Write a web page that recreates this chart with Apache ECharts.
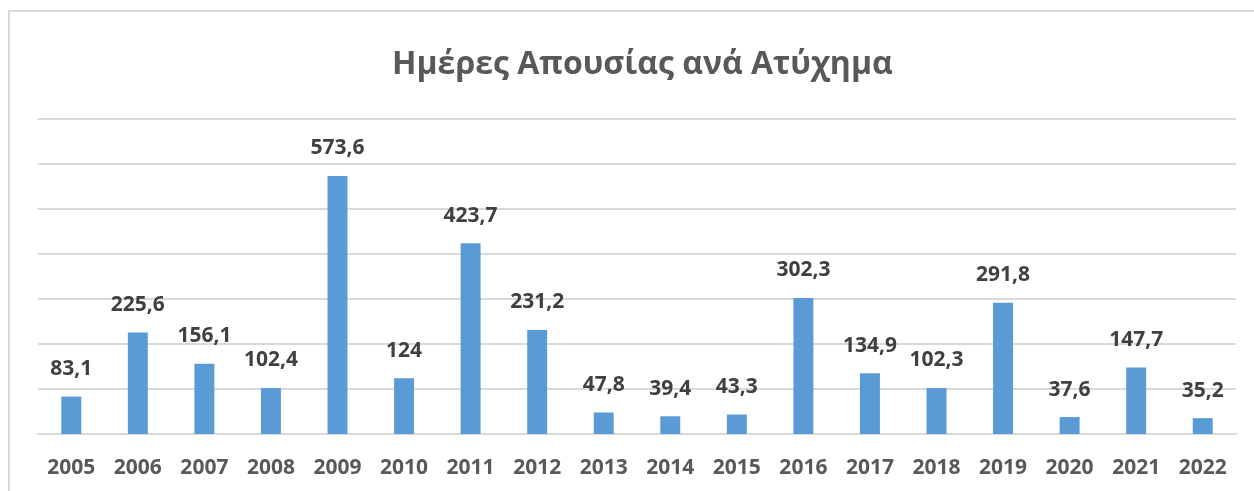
<!DOCTYPE html>
<html>
<head>
<meta charset="utf-8">
<script src="https://cdn.jsdelivr.net/npm/echarts@6/dist/echarts.min.js"></script>
<style>
  html, body { margin: 0; padding: 0; background: #fff; }
  #main { width: 1254px; height: 491px; }
</style>
</head>
<body>
<div id="main"></div>
<script>
var years = ['2005', '2006', '2007', '2008', '2009', '2010', '2011', '2012', '2013',
             '2014', '2015', '2016', '2017', '2018', '2019', '2020', '2021', '2022'];
var days = [83.1, 225.6, 156.1, 102.4, 573.6, 124, 423.7, 231.2, 47.8,
            39.4, 43.3, 302.3, 134.9, 102.3, 291.8, 37.6, 147.7, 35.2];
var yTicks = [0, 100, 200, 300, 400, 500, 600, 700];

var font = 'Open Sans';
var myChart = echarts.init(document.getElementById('main'));
myChart.setOption({
    animation: false,
    title: {
        text: 'Ημέρες Απουσίας ανά Ατύχημα',
        left: 387,
        top: 44,
        textStyle: { fontFamily: font, fontSize: 32, fontWeight: 'bold', color: '#595959' }
    },
    graphic: [{
        type: 'rect',
        shape: { x: 9, y: 11, width: 1260, height: 500 },
        style: { fill: null, stroke: '#d9d9d9', lineWidth: 2 }
    }],
    grid: { left: 38, right: 18, top: 119, bottom: 57 },
    xAxis: {
        type: 'category',
        data: years,
        axisLine: { lineStyle: { color: '#d9d9d9', width: 2 } },
        axisTick: { show: false },
        axisLabel: {
            margin: 24,
            fontFamily: font, fontSize: 21, fontWeight: 'bold', color: '#595959'
        }
    },
    yAxis: {
        type: 'value',
        min: yTicks[0],
        max: yTicks[yTicks.length - 1],
        interval: 100,
        axisLabel: { show: false },
        axisLine: { show: false },
        axisTick: { show: false },
        splitLine: { lineStyle: { color: '#d9d9d9', width: 2 } }
    },
    series: [{
        type: 'bar',
        data: days,
        barWidth: '30%',
        itemStyle: { color: '#5b9bd5' },
        label: {
            show: true,
            position: 'top',
            distance: 17,
            fontFamily: font, fontSize: 21, fontWeight: 'bold', color: '#404040',
            formatter: function (p) { return String(p.value).replace('.', ','); }
        }
    }]
});
</script>
</body>
</html>
